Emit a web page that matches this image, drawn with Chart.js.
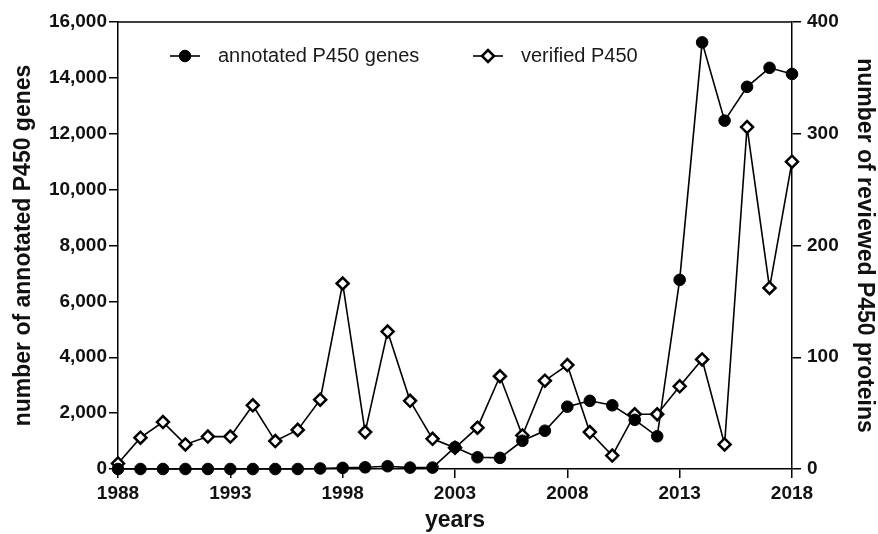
<!DOCTYPE html>
<html>
<head>
<meta charset="utf-8">
<script src="https://cdn.jsdelivr.net/npm/chart.js@4.4.0/dist/chart.umd.min.js"></script>
<style>
  html, body { margin: 0; padding: 0; background: #fff; }
  #wrap { width: 878px; height: 534px; }
</style>
</head>
<body>
<div id="wrap"><canvas id="p450Chart"></canvas></div>
<script>
// values
const years = [1988, 1989, 1990, 1991, 1992, 1993, 1994, 1995, 1996, 1997, 1998, 1999, 2000, 2001, 2002,
               2003, 2004, 2005, 2006, 2007, 2008, 2009, 2010, 2011, 2012, 2013, 2014, 2015, 2016, 2017, 2018];
const annotatedGenes = [0, 0, 0, 0, 0, 0, 0, 0, 0, 20, 40, 60, 100, 50, 50,
                        780, 420, 400, 1010, 1370, 2230, 2440, 2280, 1760, 1170, 6770, 15270, 12470, 13680, 14360, 14140];
const verifiedP450 = [5, 28, 42, 22, 29, 29, 57, 25, 35, 62, 166, 33, 123, 61, 27,
                      19, 37, 83, 30, 79, 93, 33, 12, 49, 49, 74, 98, 22, 306, 162, 275];
const seriesNames = ['annotated P450 genes', 'verified P450'];
const xTicks = [1988, 1993, 1998, 2003, 2008, 2013, 2018];
const leftTicks = [0, 2000, 4000, 6000, 8000, 10000, 12000, 14000, 16000];
const rightTicks = [0, 100, 200, 300, 400];

const FONT = "'Liberation Sans', Arial, Helvetica, sans-serif";
Chart.defaults.font.family = FONT;
Chart.defaults.color = '#111';

const pointStyles = [
    { pointStyle: 'circle', radius: 5.8, fill: '#000', borderWidth: 1 },
    { pointStyle: 'rectRot', radius: 6, fill: '#fff', borderWidth: 2.5 }
];

// top frame line
const frame = {
    id: 'frame',
    afterDatasetsDraw(chart) {
        const { ctx, chartArea } = chart;
        ctx.save();
        ctx.strokeStyle = '#000';
        ctx.lineWidth = 1.5;
        ctx.beginPath();
        ctx.moveTo(chartArea.left, chartArea.top);
        ctx.lineTo(chartArea.right, chartArea.top);
        ctx.stroke();
        ctx.restore();
    }
};

// legend inside plot: line - marker - line, then text
const insideLegend = {
    id: 'insideLegend',
    afterDraw(chart) {
        const { ctx, chartArea } = chart;
        const y = chartArea.top + 34;
        const starts = [chartArea.left + 67, chartArea.left + 370];
        ctx.save();
        seriesNames.forEach((name, i) => {
            const cx = starts[i];
            const st = pointStyles[i];
            ctx.strokeStyle = '#000';
            ctx.lineWidth = 1.6;
            ctx.beginPath();
            ctx.moveTo(cx - 15, y);
            ctx.lineTo(cx + 15, y);
            ctx.stroke();
            ctx.fillStyle = st.fill;
            ctx.lineWidth = st.borderWidth;
            Chart.helpers.drawPoint(ctx, { pointStyle: st.pointStyle, radius: st.radius, rotation: 0, borderWidth: st.borderWidth }, cx, y);
            ctx.fillStyle = '#1a1a1a';
            ctx.font = '20px ' + FONT;
            ctx.textBaseline = 'middle';
            ctx.textAlign = 'left';
            ctx.fillText(name, cx + 33, y);
        });
        ctx.restore();
    }
};

const axisGrid = { drawOnChartArea: false, drawTicks: true, tickLength: 9, color: '#000', lineWidth: 1.5 };
const axisBorder = { color: '#000', width: 1.5 };
const tickFont = { size: 19, weight: 'bold' };
const titleFont = { size: 23, weight: 'bold' };

new Chart(document.getElementById('p450Chart').getContext('2d'), {
    type: 'line',
    data: {
        datasets: [
            {
                label: seriesNames[0],
                data: years.map((yr, i) => ({ x: yr, y: annotatedGenes[i] })),
                yAxisID: 'yLeft',
                borderColor: '#000',
                borderWidth: 1.6,
                pointStyle: 'circle',
                pointRadius: pointStyles[0].radius,
                pointBackgroundColor: '#000',
                pointBorderColor: '#000',
                pointBorderWidth: 1,
                tension: 0,
                clip: false
            },
            {
                label: seriesNames[1],
                data: years.map((yr, i) => ({ x: yr, y: verifiedP450[i] })),
                yAxisID: 'yRight',
                borderColor: '#000',
                borderWidth: 1.6,
                pointStyle: 'rectRot',
                pointRadius: pointStyles[1].radius,
                pointBackgroundColor: '#fff',
                pointBorderColor: '#000',
                pointBorderWidth: 2.5,
                tension: 0,
                clip: false
            }
        ]
    },
    options: {
        responsive: true,
        maintainAspectRatio: false,
        animation: false,
        layout: { padding: { top: 22, left: 0, right: 0, bottom: 0 } },
        plugins: { legend: { display: false }, tooltip: { enabled: false } },
        scales: {
            x: {
                type: 'linear',
                position: 'bottom',
                min: 1988,
                max: 2018,
                afterBuildTicks: s => { s.ticks = xTicks.map(v => ({ value: v })); },
                afterFit: s => { s.height = 65; },
                grid: axisGrid,
                border: axisBorder,
                ticks: { font: tickFont, padding: 4, maxRotation: 0, autoSkip: false, callback: v => String(v) },
                title: { display: true, text: 'years', font: titleFont, padding: 0 }
            },
            yLeft: {
                type: 'linear',
                position: 'left',
                min: 0,
                max: 16000,
                afterBuildTicks: s => { s.ticks = leftTicks.map(v => ({ value: v })); },
                afterFit: s => { s.width = 118; },
                grid: axisGrid,
                border: axisBorder,
                ticks: { font: tickFont, padding: 2, callback: v => v.toLocaleString('en-US') },
                title: { display: true, text: 'number of annotated P450 genes', font: titleFont, padding: { top: 10 } }
            },
            yRight: {
                type: 'linear',
                position: 'right',
                min: 0,
                max: 400,
                afterBuildTicks: s => { s.ticks = rightTicks.map(v => ({ value: v })); },
                afterFit: s => { s.width = 86; },
                grid: axisGrid,
                border: axisBorder,
                ticks: { font: tickFont, padding: 6, callback: v => String(v) },
                title: { display: true, text: 'number of reviewed P450 proteins', font: titleFont, padding: { top: 0 } }
            }
        }
    },
    plugins: [frame, insideLegend]
});
</script>
</body>
</html>
